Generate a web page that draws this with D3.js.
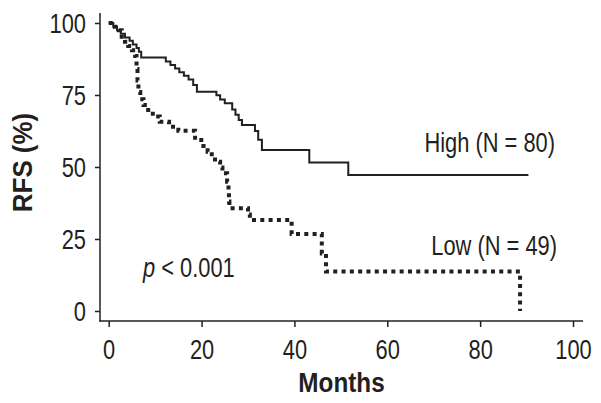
<!DOCTYPE html>
<html><head><meta charset="utf-8">
<script src="https://cdn.jsdelivr.net/npm/d3@7/dist/d3.min.js"></script>
<style>
body{margin:0;background:#fff;}
text{font-family:'Liberation Sans',Arial,sans-serif;fill:#231f20;}
</style></head><body>
<svg id="chart" width="601" height="403"></svg>
<script>
// Kaplan-Meier step data (months, RFS %)
const highTimes = [0, 1.0, 1.8, 2.6, 3.5, 4.5, 5.2, 6.0, 6.5, 7.0, 12.3, 13.3, 14.3, 15.2, 16.2, 17.2, 18.2, 19.0, 23.2, 24.0, 25.0, 26.6, 27.3, 28.0, 28.7, 31.5, 32.2, 33.0, 43.2, 51.6, 90.4];
const highSurv  = [100, 98.8, 97.5, 96.3, 95.0, 93.8, 92.5, 91.3, 90.0, 88.0, 86.6, 85.4, 84.2, 82.9, 81.7, 80.4, 78.5, 76.1, 74.9, 73.4, 72.1, 70.0, 68.1, 66.3, 64.6, 62.5, 59.5, 55.9, 51.6, 47.2, 47.2];
const lowTimes = [0, 1.3, 2.2, 2.8, 3.5, 4.2, 5.0, 5.7, 6.0, 6.2, 6.4, 6.8, 7.5, 8.5, 9.5, 11.0, 13.0, 15.0, 18.6, 20.4, 21.3, 22.2, 22.9, 24.0, 24.5, 25.5, 25.8, 25.9, 26.0, 30.0, 30.4, 39.4, 45.9, 46.8, 88.6, 88.6];
const lowSurv  = [100, 98.7, 97.5, 95.2, 93.5, 92.0, 90.5, 88.5, 84.0, 80.0, 76.0, 73.5, 71.5, 69.8, 67.5, 65.7, 64.0, 62.6, 59.4, 57.3, 55.3, 53.5, 51.8, 49.8, 47.8, 44.9, 41.0, 38.0, 35.7, 33.5, 31.6, 26.7, 20.0, 13.7, 13.7, 0];
const xTicks = [0, 20, 40, 60, 80, 100];
const yTicks = [0, 25, 50, 75, 100];
const seriesLabels = ["High (N = 80)", "Low (N = 49)"];
const pLabel = ["p", " < 0.001"];
const xTitle = "Months";
const yTitle = "RFS (%)";

const svg = d3.select("#chart");
const x = d3.scaleLinear().domain([0, 100]).range([108.7, 573]);
const y = d3.scaleLinear().domain([0, 100]).range([311, 23]);
const ink = "#231f20";
const SX = 0.81; // condensed look
const FS = 27;

// axis lines
svg.append("line").attr("x1",100).attr("x2",100).attr("y1",13).attr("y2",321.5).attr("stroke",ink).attr("stroke-width",1.5);
svg.append("line").attr("x1",99.3).attr("x2",583).attr("y1",321).attr("y2",321).attr("stroke",ink).attr("stroke-width",1.5);

const yAxis = svg.append("g").attr("transform","translate(100,0)")
  .call(d3.axisLeft(y).tickValues(yTicks).tickSize(5).tickPadding(7).tickSizeOuter(0));
yAxis.select(".domain").remove();
yAxis.selectAll("line").attr("stroke",ink).attr("stroke-width",1.5);
yAxis.selectAll("text").attr("font-size",FS).attr("fill",ink)
  .style("font-family","'Liberation Sans',Arial,sans-serif")
  .attr("x", -14/SX).attr("dy","0.36em").attr("transform",`scale(${SX},1)`);

const xAxis = svg.append("g").attr("transform","translate(0,321)")
  .call(d3.axisBottom(x).tickValues(xTicks).tickSize(6).tickPadding(9).tickSizeOuter(0));
xAxis.select(".domain").remove();
xAxis.selectAll("line").attr("stroke",ink).attr("stroke-width",1.5);
xAxis.selectAll("text").attr("font-size",FS).attr("fill",ink)
  .style("font-family","'Liberation Sans',Arial,sans-serif")
  .attr("y",38.3).attr("dy",0).attr("transform",`scale(${SX},1)`);

const line = d3.line().x(d => x(d[0])).y(d => y(d[1])).curve(d3.curveStepAfter);
const highData = highTimes.map((t,i)=>[t, highSurv[i]]);
const lowData = lowTimes.map((t,i)=>[t, lowSurv[i]]);

svg.append("path").datum(lowData).attr("d", line).attr("fill","none")
  .attr("stroke",ink).attr("stroke-width",4).attr("stroke-dasharray","4,4.3");
svg.append("path").datum(highData).attr("d", line).attr("fill","none")
  .attr("stroke",ink).attr("stroke-width",2);

function label(px, py, anchor, sx, opts){
  const t = svg.append("text").attr("transform",`translate(${px},${py}) ${opts.rot||""} scale(${sx},1)`)
    .attr("text-anchor",anchor).attr("font-size",opts.fs||FS);
  if (opts.bold) t.attr("font-weight","bold");
  return t;
}
label(555, 151.7, "end", SX, {}).text(seriesLabels[0]);
label(557, 254.5, "end", SX, {}).text(seriesLabels[1]);
const pt = label(143, 276.7, "start", SX, {});
pt.append("tspan").attr("font-style","italic").text(pLabel[0]);
pt.append("tspan").text(pLabel[1]);

label(341.5, 391.7, "middle", 0.9, {bold:true}).text(xTitle);
label(31.5, 162.5, "middle", 0.96, {bold:true, rot:"rotate(-90)"}).text(yTitle);
</script></body></html>
